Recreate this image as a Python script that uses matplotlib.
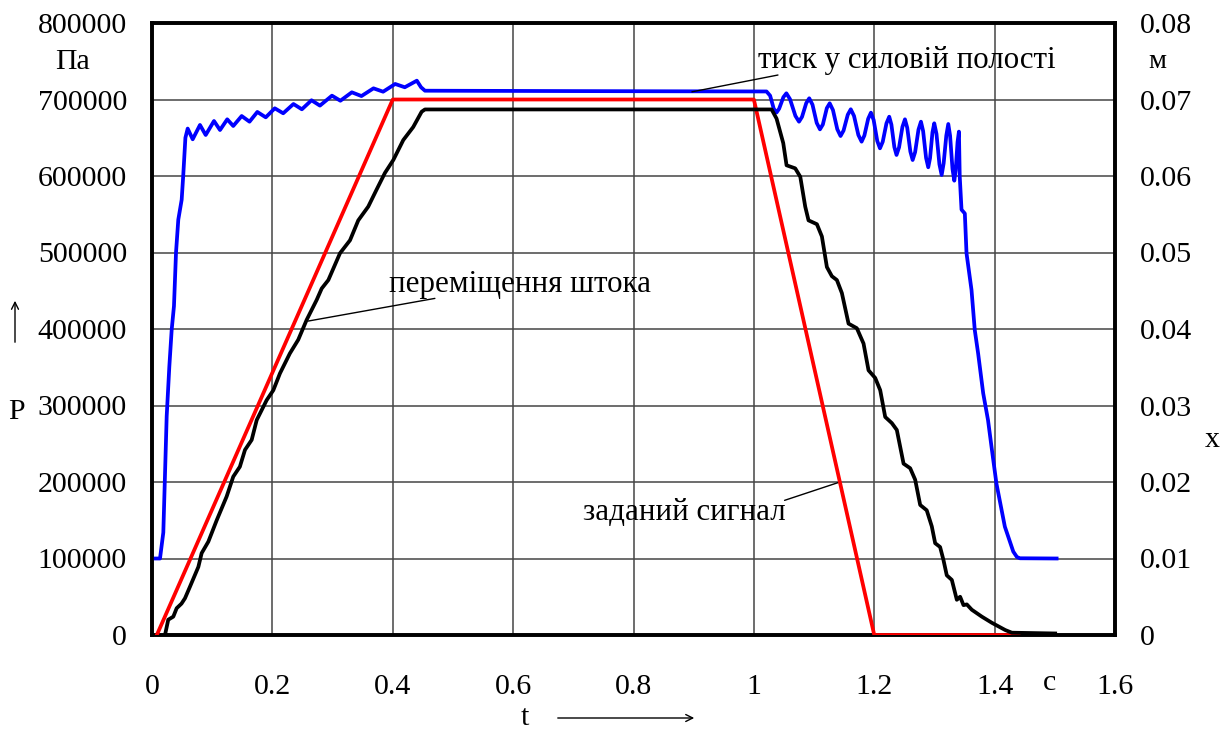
import matplotlib
matplotlib.use("Agg")
import matplotlib.pyplot as plt

plt.rcParams['font.family'] = ['Liberation Serif', 'DejaVu Serif']

# Pressure in the working chamber, Pa
t_pressure = [0.0, 0.0133, 0.0188, 0.0244, 0.0288, 0.0327, 0.0365, 0.0399, 0.0437, 0.0493,
              0.052, 0.0555, 0.0593, 0.0676, 0.0797, 0.0892, 0.103, 0.113, 0.125, 0.135,
              0.149, 0.162, 0.175, 0.189, 0.204, 0.218, 0.235, 0.249, 0.265, 0.279,
              0.299, 0.313, 0.332, 0.348, 0.368, 0.384, 0.404, 0.420, 0.440, 0.447,
              0.4535, 0.7, 1.021,
              1.027, 1.033, 1.0377, 1.042, 1.049, 1.054, 1.060, 1.069, 1.075, 1.080,
              1.087, 1.092, 1.0974, 1.1044, 1.1098, 1.1146, 1.1212, 1.126, 1.1314, 1.1386,
              1.144, 1.149, 1.156, 1.161, 1.1664, 1.1736, 1.179, 1.1836, 1.1899, 1.1945,
              1.199, 1.205, 1.2095, 1.2141, 1.2203, 1.2249, 1.2285, 1.2334, 1.237, 1.2412,
              1.2468, 1.251, 1.2548, 1.26, 1.2638, 1.2679, 1.2735, 1.2776, 1.2812, 1.2861,
              1.2897, 1.2927, 1.2967, 1.2997, 1.3034, 1.3083, 1.312, 1.3153, 1.3197, 1.323,
              1.326, 1.330, 1.333, 1.3353, 1.3384, 1.3407, 1.342, 1.345, 1.3505, 1.3533,
              1.3616, 1.367, 1.3726, 1.381, 1.389, 1.395, 1.403, 1.417, 1.431, 1.437,
              1.442, 1.503]
p_pressure = [100000, 100000, 134000, 286000, 351000, 399000, 430000, 500000, 543000, 569000,
              602000, 650000, 662000, 648000, 666700, 653600, 671900, 660100, 674100, 665400,
              678400, 671000, 683700, 676700, 688500, 682000, 694100, 687200, 699000, 692000,
              705000, 698400, 709400, 704500, 714600, 710200, 720300, 716000, 724600, 716000,
              711500, 711000, 710500,
              705000, 688000, 683000, 688000, 703000, 708100, 700500, 678600, 671000, 677300,
              695300, 701600, 693200, 669400, 661000, 667300, 688700, 695000, 686200, 661100,
              652300, 659400, 680100, 687200, 678500, 653600, 644900, 652900, 674800, 682800,
              673200, 645800, 636200, 644800, 668900, 677500, 667200, 637800, 627500, 637400,
              664200, 674100, 663100, 631900, 620900, 631200, 660700, 671000, 658700, 623700,
              611400, 623300, 657000, 668900, 655000, 615200, 601300, 616600, 652700, 668000,
              652700, 609200, 593900, 607500, 644400, 658000, 600000, 556000, 551000, 499000,
              451000, 398700, 368000, 316000, 281000, 245000, 198000, 141600, 109000, 102000,
              100300, 100000]

# Rod displacement, m
t_rod = [0.0216, 0.027, 0.0354, 0.041, 0.049, 0.0548, 0.063, 0.077, 0.0825, 0.0936,
         0.1075, 0.124, 0.135, 0.146, 0.1545, 0.1656, 0.174, 0.1905, 0.2016, 0.2126,
         0.229, 0.243, 0.257, 0.2736, 0.282, 0.293, 0.3123, 0.329, 0.3427, 0.3593,
         0.373, 0.387, 0.401, 0.4175, 0.434, 0.448, 0.4535, 1.0295,
         1.0377, 1.0488, 1.0543, 1.0687, 1.0771, 1.0853, 1.0908, 1.1047, 1.113, 1.1213,
         1.1296, 1.1379, 1.1462, 1.1573, 1.1711, 1.1822, 1.1905, 1.2016, 1.2099, 1.2182,
         1.2292, 1.2375, 1.2487, 1.2597, 1.268, 1.2763, 1.2872, 1.2956, 1.3012, 1.3094,
         1.315, 1.3205, 1.3289, 1.3372, 1.3427, 1.3483, 1.3538, 1.3621, 1.3787, 1.3953,
         1.4176, 1.4286, 1.5006]
x_rod = [0.0, 0.0020, 0.0024, 0.0035, 0.0041, 0.0048, 0.0063, 0.0089, 0.0107, 0.0122,
         0.0150, 0.0181, 0.0207, 0.0220, 0.0242, 0.0255, 0.0281, 0.0307, 0.0320, 0.0342,
         0.0368, 0.0386, 0.0412, 0.0438, 0.0453, 0.0464, 0.0499, 0.0516, 0.0542, 0.0560,
         0.0582, 0.0604, 0.0621, 0.0647, 0.0664, 0.0684, 0.0687, 0.0687,
         0.0675, 0.0643, 0.0614, 0.0610, 0.0599, 0.0560, 0.0542, 0.0537, 0.0521, 0.0481,
         0.0469, 0.0464, 0.0447, 0.0407, 0.0401, 0.0381, 0.0346, 0.0336, 0.0320, 0.0285,
         0.0277, 0.0268, 0.0224, 0.0218, 0.0203, 0.0170, 0.0163, 0.0142, 0.0120, 0.0115,
         0.0098, 0.0078, 0.0072, 0.0046, 0.0050, 0.0039, 0.0040, 0.0033, 0.0024, 0.0016,
         0.00065, 0.0003, 0.0002]

# Reference (command) signal, m
t_ref = [0.008, 0.4, 1.0, 1.2, 1.44]
x_ref = [0.0, 0.07, 0.07, 0.0, 0.0]

x_ticks = [0, 0.2, 0.4, 0.6, 0.8, 1.0, 1.2, 1.4, 1.6]
x_tick_labels = ["0", "0.2", "0.4", "0.6", "0.8", "1", "1.2", "1.4", "1.6"]
p_ticks = [0, 100000, 200000, 300000, 400000, 500000, 600000, 700000, 800000]
p_tick_labels = ["0", "100000", "200000", "300000", "400000", "500000", "600000", "700000", "800000"]
x_m_ticks = [0, 0.01, 0.02, 0.03, 0.04, 0.05, 0.06, 0.07, 0.08]
x_m_tick_labels = ["0", "0.01", "0.02", "0.03", "0.04", "0.05", "0.06", "0.07", "0.08"]

W, H = 1226, 729
FS = 21.5
FS_NOTE = 22.3
fig = plt.figure(figsize=(W / 100, H / 100), dpi=100)
ax = fig.add_axes([152 / W, 1 - 635 / H, 963 / W, 612 / H])
ax2 = ax.twinx()

ax.set_xlim(0, 1.6)
ax.set_ylim(0, 800000)
ax2.set_ylim(0, 0.08)

ax.set_xticks(x_ticks)
ax.set_xticklabels(x_tick_labels)
ax.set_yticks(p_ticks)
ax.set_yticklabels(p_tick_labels)
ax2.set_yticks(x_m_ticks)
ax2.set_yticklabels(x_m_tick_labels)

ax.grid(True, color="#454545", lw=1.1)
ax.set_axisbelow(True)
ax.tick_params(axis="both", length=0, labelsize=FS, colors="black")
ax.tick_params(axis="x", pad=28)
ax.tick_params(axis="y", pad=18)
ax2.tick_params(axis="y", length=0, labelsize=FS, pad=18)

for a in (ax, ax2):
    for s in a.spines.values():
        s.set_linewidth(2.6)
        s.set_color("black")

lw = 2.7
ax.plot(t_pressure, p_pressure, color="#0000ff", lw=lw, solid_joinstyle="round", zorder=3)
ax2.plot(t_ref, x_ref, color="#ff0000", lw=lw, solid_joinstyle="round", zorder=3)
ax2.plot(t_rod, x_rod, color="black", lw=lw, solid_joinstyle="round", zorder=4)

# Curve captions with leader lines
leader = dict(arrowstyle="-", lw=1.0, color="black", shrinkA=0, shrinkB=0)
ax.text(1.254, 741000, "тиск у силовій полості", ha="center", va="baseline", fontsize=FS_NOTE)
ax.annotate("", xy=(0.897, 710000), xytext=(1.040, 732000), arrowprops=leader)
ax.text(0.611, 448000, "переміщення штока", ha="center", va="baseline", fontsize=FS_NOTE)
ax.annotate("", xy=(0.2597, 410400), xytext=(0.470, 440000), arrowprops=leader)
ax.text(0.884, 150000, "заданий сигнал", ha="center", va="baseline", fontsize=FS_NOTE)
ax.annotate("", xy=(1.143, 200000), xytext=(1.051, 176000), arrowprops=leader)

# Units and axis symbols
fig.text(72 / W, 1 - 62 / H, "Па", ha="center", va="center", fontsize=FS)
fig.text(1157 / W, 1 - 62 / H, "м", ha="center", va="center", fontsize=FS - 1)
fig.text(1050 / W, 1 - 683 / H, "с", ha="center", va="center", fontsize=FS)
fig.text(16 / W, 1 - 412 / H, "P", ha="center", va="center", fontsize=FS)
fig.text(1212 / W, 1 - 440 / H, "x", ha="center", va="center", fontsize=FS)
fig.text(525 / W, 1 - 718 / H, "t", ha="center", va="center", fontsize=FS)

fig.patches.append(matplotlib.patches.FancyArrowPatch(
    (15, H - 345), (15, H - 298), transform=None, arrowstyle="->,head_length=5,head_width=2.5",
    lw=1.0, color="black", mutation_scale=1))
fig.patches.append(matplotlib.patches.FancyArrowPatch(
    (555, H - 718), (697, H - 718), transform=None, arrowstyle="->,head_length=5,head_width=2.5",
    lw=1.0, color="black", mutation_scale=1))

fig.savefig("out.png", dpi=100, facecolor="white")
